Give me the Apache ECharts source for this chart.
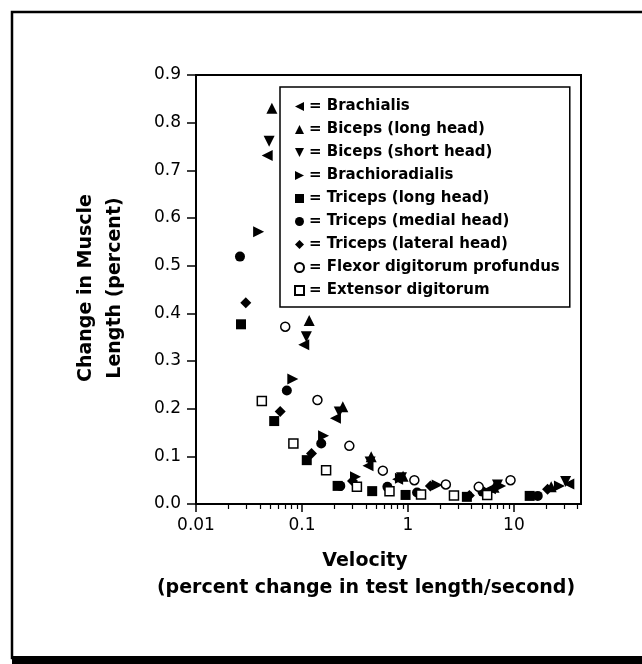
<!DOCTYPE html>
<html>
<head>
<meta charset="utf-8">
<script src="https://cdn.jsdelivr.net/npm/echarts@6/dist/echarts.min.js"></script>
<style>
html,body{margin:0;padding:0;background:#fff;}
#chart{width:642px;height:664px;}
</style>
</head>
<body>
<div id="chart"></div>
<script>
// ---- data (velocity %/s, change in muscle length %) ----
const seriesNames = [
  'Brachialis', 'Biceps (long head)', 'Biceps (short head)', 'Brachioradialis',
  'Triceps (long head)', 'Triceps (medial head)', 'Triceps (lateral head)',
  'Flexor digitorum profundus', 'Extensor digitorum'
];
const brachialis = [[0.047,0.731],[0.104,0.334],[0.207,0.180],[0.42,0.080],[0.80,0.052],[6.0,0.032],[33,0.042]];
const bicepsLong = [[0.052,0.83],[0.117,0.385],[0.243,0.204],[0.45,0.099],[0.90,0.058],[6.5,0.035],[22.5,0.036]];
const bicepsShort = [[0.049,0.761],[0.110,0.351],[0.225,0.193],[0.44,0.088],[0.87,0.055],[7.0,0.040],[30.8,0.047]];
const brachioradialis = [[0.039,0.571],[0.082,0.262],[0.160,0.143],[0.32,0.057],[0.85,0.054],[1.89,0.040],[7.5,0.038],[26.9,0.038]];
const tricepsLong = [[0.0266,0.377],[0.0547,0.174],[0.111,0.092],[0.217,0.038],[0.46,0.027],[0.95,0.019],[3.6,0.015],[14.1,0.017]];
const tricepsMedial = [[0.026,0.519],[0.072,0.238],[0.152,0.127],[0.23,0.038],[0.64,0.036],[1.22,0.024],[5.05,0.026],[16.8,0.017]];
const tricepsLateral = [[0.0295,0.422],[0.0623,0.194],[0.123,0.106],[0.30,0.048],[1.63,0.038],[3.8,0.018],[20.8,0.031]];
const flexor = [[0.0695,0.372],[0.140,0.218],[0.28,0.122],[0.58,0.070],[1.15,0.050],[2.28,0.041],[4.66,0.036],[9.3,0.050]];
const extensor = [[0.0418,0.216],[0.083,0.127],[0.169,0.071],[0.33,0.036],[0.67,0.027],[1.33,0.020],[2.72,0.018],[5.6,0.019]];

const velocityTicks = [0.01, 0.1, 1, 10];
const velocityTickLabels = ['0.01', '0.1', '1', '10'];
const minorMultipliers = [2, 3, 4, 5, 6, 7, 8, 9];
const xMin = 0.01, xMax = 43;

const minorTicks = [];
velocityTicks.forEach(d => minorMultipliers.forEach(m => {
  const v = +(d * m).toPrecision(3);
  if (v < xMax) minorTicks.push(v);
}));

const FONT = 'DejaVu Sans';
const filled = { color: '#000', opacity: 1 };
const open = { color: '#fff', borderColor: '#000', borderWidth: 1.5, opacity: 1 };

const LEFT_TRI = 'path://M10,0 L10,10 L0,5 Z';
const DOWN_TRI = 'path://M0,0 L10,0 L5,10 Z';
const RIGHT_TRI = 'path://M0,0 L0,10 L10,5 Z';
const markers = [
  ['triangle', 90, 11, filled, LEFT_TRI],
  ['triangle', 0, 11, filled, 'triangle'],
  ['triangle', 180, 11, filled, DOWN_TRI],
  ['triangle', -90, 11, filled, RIGHT_TRI],
  ['rect', 0, 10, filled, 'rect'],
  ['circle', 0, 10, filled, 'circle'],
  ['diamond', 0, 11, filled, 'diamond'],
  ['circle', 0, 9, open, 'circle'],
  ['rect', 0, 9, open, 'rect']
];
const seriesData = [brachialis, bicepsLong, bicepsShort, brachioradialis, tricepsLong, tricepsMedial, tricepsLateral, flexor, extensor];

const chart = echarts.init(document.getElementById('chart'), null, { renderer: 'canvas' });
chart.setOption({
  animation: false,
  backgroundColor: '#fff',
  textStyle: { fontFamily: FONT },
  grid: { left: 196, right: 61, top: 75, bottom: 160, show: true, borderColor: '#000', borderWidth: 2, backgroundColor: 'transparent' },
  xAxis: [{
    type: 'log', logBase: 10, min: xMin, max: xMax,
    axisLine: { show: true, lineStyle: { color: '#000', width: 2 } },
    axisTick: { show: true, inside: false, length: 8, customValues: velocityTicks, lineStyle: { color: '#000', width: 1.5 } },
    axisLabel: {
      customValues: velocityTicks, margin: 13, color: '#000', fontFamily: FONT, fontSize: 17,
      formatter: v => {
        const i = velocityTicks.findIndex(t => Math.abs(Math.log10(t) - Math.log10(v)) < 1e-6);
        return i >= 0 ? velocityTickLabels[i] : '';
      }
    },
    splitLine: { show: false }
  }, {
    type: 'log', logBase: 10, min: xMin, max: xMax, position: 'bottom',
    axisLine: { show: false },
    axisTick: { show: true, inside: false, length: 5, customValues: minorTicks, lineStyle: { color: '#000', width: 1.2 } },
    axisLabel: { show: false },
    splitLine: { show: false }
  }],
  yAxis: {
    type: 'value', min: 0, max: 0.9, interval: 0.1,
    axisLine: { show: true, lineStyle: { color: '#000', width: 2 } },
    axisTick: { show: true, inside: false, length: 9, lineStyle: { color: '#000', width: 1.5 } },
    axisLabel: { margin: 15, color: '#000', fontFamily: FONT, fontSize: 17, formatter: v => v.toFixed(1) },
    splitLine: { show: false }
  },
  legend: {
    orient: 'vertical', left: 280, top: 87,
    padding: [12, 10, 9, 14],
    itemWidth: 9, itemHeight: 9, itemGap: 8,
    backgroundColor: '#fff', borderColor: '#000', borderWidth: 1.5,
    formatter: '= {name}',
    textStyle: { fontFamily: FONT, fontWeight: 'bold', fontSize: 15, color: '#000' },
    data: seriesNames.map((n, i) => ({ name: n, icon: markers[i][4] }))
  },
  graphic: [
    { type: 'rect', shape: { x: 12, y: 12, width: 680, height: 646 }, style: { fill: 'none', stroke: '#000', lineWidth: 2.5 }, silent: true, z: 0 },
    { type: 'rect', shape: { x: 12, y: 656, width: 640, height: 10 }, style: { fill: '#000' }, silent: true, z: 0 },
    { type: 'text', x: 365, y: 561, style: { text: 'Velocity', font: 'bold 19px "DejaVu Sans"', fill: '#000', textAlign: 'center', textVerticalAlign: 'middle' }, silent: true },
    { type: 'text', x: 366, y: 588, style: { text: '(percent change in test length/second)', font: 'bold 19px "DejaVu Sans"', fill: '#000', textAlign: 'center', textVerticalAlign: 'middle' }, silent: true },
    { type: 'text', x: 86, y: 288, rotation: Math.PI / 2, style: { text: 'Change in Muscle', font: 'bold 19px "DejaVu Sans"', fill: '#000', textAlign: 'center', textVerticalAlign: 'middle' }, silent: true },
    { type: 'text', x: 115, y: 288, rotation: Math.PI / 2, style: { text: 'Length (percent)', font: 'bold 19px "DejaVu Sans"', fill: '#000', textAlign: 'center', textVerticalAlign: 'middle' }, silent: true }
  ],
  series: seriesNames.map((n, i) => ({
    name: n, type: 'scatter', data: seriesData[i],
    symbol: markers[i][0], symbolRotate: markers[i][1], symbolSize: markers[i][2],
    itemStyle: markers[i][3], emphasis: { disabled: true }, z: 3
  }))
});
</script>
</body>
</html>
